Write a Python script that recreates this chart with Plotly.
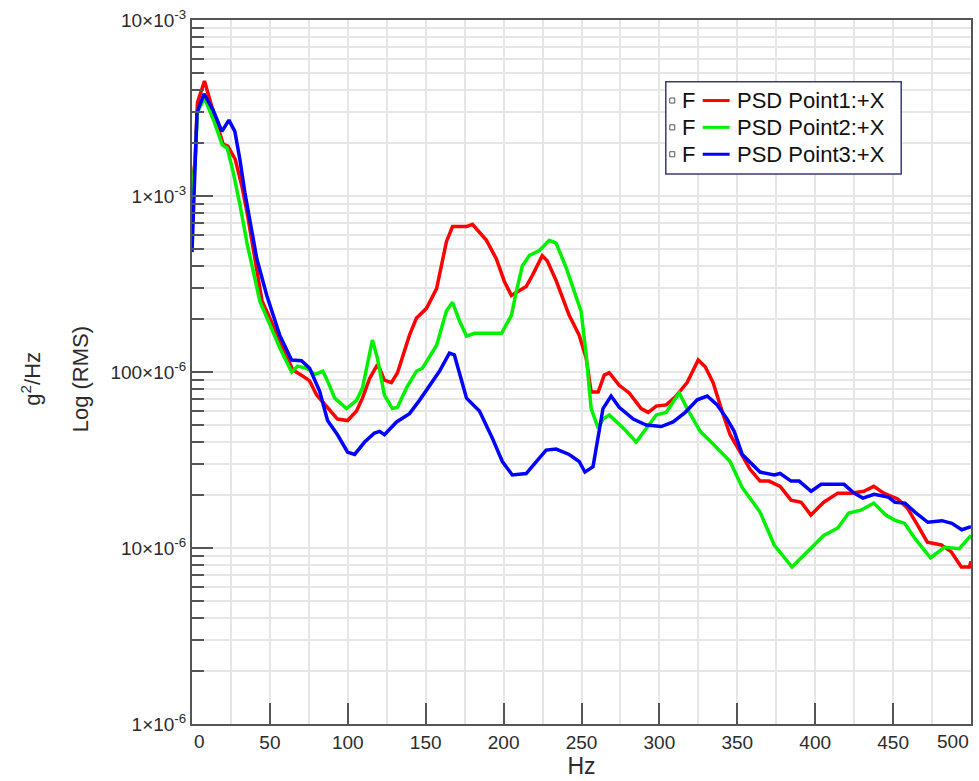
import plotly.graph_objects as go

# Frequency (Hz) and PSD (g^2/Hz) for each measurement point
red_hz = [0, 2, 3.5, 8, 13.7, 20, 23, 27.7, 32, 35.3, 39, 45, 50, 56.4, 64.6, 71, 75.5, 80, 86.3,
          93.4, 99.9, 105.6, 109.4, 114, 118.5, 120.4, 123.5, 128, 131.9, 139.6, 144, 150.5, 157,
          163.3, 167.2, 176.2, 180, 189, 195.3, 200.5, 205, 214.5, 218.4, 224.8, 228, 233.7, 242.1,
          248.5, 253, 256.2, 260.7, 264.6, 267.8, 274.2, 280.6, 288.3, 292.8, 298, 304.4, 310.1,
          317.8, 324.9, 329.4, 334.5, 341, 345.4, 351.9, 358.2, 364.6, 370.4, 377.5, 384.5, 391,
          397.2, 405.5, 414.5, 422.8, 431.2, 437.6, 444, 453, 459.3, 465.7, 472, 481, 487.4, 493.8,
          499, 500]
red_psd = [1.1e-3, 1.6e-3, 3.4e-3, 4.5e-3, 3.0e-3, 1.97e-3, 1.92e-3, 1.62e-3, 1.14e-3, 8.1e-4,
           5.2e-4, 2.52e-4, 2.02e-4, 1.5e-4, 1.03e-4, 9.5e-5, 8.9e-5, 7.4e-5, 6.4e-5, 5.4e-5, 5.3e-5,
           6.0e-5, 7.1e-5, 9.2e-5, 1.08e-4, 1.05e-4, 9.0e-5, 8.7e-5, 9.9e-5, 1.62e-4, 2.02e-4, 2.3e-4,
           2.98e-4, 5.5e-4, 6.7e-4, 6.7e-4, 6.9e-4, 5.6e-4, 4.4e-4, 3.27e-4, 2.72e-4, 3.06e-4, 3.53e-4,
           4.58e-4, 4.29e-4, 3.31e-4, 2.1e-4, 1.62e-4, 1.2e-4, 7.7e-5, 7.7e-5, 9.6e-5, 9.9e-5, 8.4e-5,
           7.6e-5, 6.2e-5, 5.9e-5, 6.4e-5, 6.5e-5, 7.2e-5, 8.7e-5, 1.17e-4, 1.07e-4, 8.7e-5, 5.7e-5,
           4.4e-5, 3.5e-5, 2.8e-5, 2.4e-5, 2.4e-5, 2.24e-5, 1.87e-5, 1.82e-5, 1.54e-5, 1.82e-5,
           2.05e-5, 2.05e-5, 2.1e-5, 2.24e-5, 2.05e-5, 1.9e-5, 1.68e-5, 1.35e-5, 1.08e-5, 1.04e-5,
           9.5e-6, 7.8e-6, 7.8e-6, 8.4e-6]

green_hz = [0, 2, 3.5, 8, 13.7, 19.4, 22.6, 26.4, 30.9, 35.3, 43.6, 50, 56.4, 64, 67.8, 73.6, 78.8,
            84, 87, 91.6, 99.2, 105.6, 109.4, 115.8, 119, 123.5, 128.6, 131.9, 137.6, 144, 147.9,
            157, 163.3, 167.2, 171.7, 176.2, 181.3, 198.7, 205, 208.2, 212, 216.6, 223, 229.3, 233.7,
            240.2, 246.6, 249.8, 253, 256.2, 260.7, 263.8, 267.8, 276.8, 285.1, 291.5, 298, 304.4,
            308.8, 312.7, 317.8, 326.2, 334.5, 345.4, 353.2, 364.6, 373.7, 385.1, 394.8, 405.5,
            414.5, 421.5, 429.3, 437.6, 445.3, 451, 457.4, 463.8, 474, 483, 492.5, 500]
green_psd = [1.0e-3, 1.6e-3, 3.0e-3, 3.6e-3, 2.72e-3, 1.95e-3, 1.87e-3, 1.37e-3, 8.8e-4, 5.4e-4,
             2.52e-4, 1.84e-4, 1.37e-4, 1.0e-4, 1.08e-4, 1.05e-4, 9.7e-5, 1.01e-4, 8.9e-5, 7.1e-5,
             6.2e-5, 6.9e-5, 8.1e-5, 1.52e-4, 1.2e-4, 7.4e-5, 6.2e-5, 6.3e-5, 8.1e-5, 1.01e-4,
             1.05e-4, 1.42e-4, 2.22e-4, 2.49e-4, 1.95e-4, 1.6e-4, 1.66e-4, 1.66e-4, 2.1e-4, 2.87e-4,
             4.0e-4, 4.6e-4, 4.9e-4, 5.6e-4, 5.4e-4, 3.9e-4, 2.7e-4, 2.2e-4, 1.25e-4, 6.2e-5, 4.8e-5,
             5.4e-5, 5.7e-5, 4.8e-5, 4.0e-5, 4.8e-5, 5.7e-5, 5.9e-5, 6.8e-5, 7.6e-5, 6.2e-5, 4.6e-5,
             3.9e-5, 3.1e-5, 2.2e-5, 1.6e-5, 1.04e-5, 7.8e-6, 9.5e-6, 1.18e-5, 1.3e-5, 1.58e-5,
             1.64e-5, 1.8e-5, 1.54e-5, 1.44e-5, 1.38e-5, 1.14e-5, 8.8e-6, 1.01e-5, 9.9e-6, 1.18e-5]

blue_hz = [0, 1.9, 3.2, 7.7, 13.4, 19.2, 23.7, 27.5, 30.7, 33.9, 38.4, 41.6, 48, 56.3, 63.9, 70.3,
           75.5, 81.9, 87, 93.4, 99.9, 104.4, 110.8, 117.1, 120.4, 123.5, 131.3, 139.6, 146, 152.4,
           158.8, 165.2, 168.4, 176.2, 184.5, 192.8, 199.2, 205.6, 214.5, 221, 227.3, 233.7, 242.1,
           248.5, 252.2, 257.4, 261.2, 263.8, 269, 274.2, 283.2, 291.5, 301.2, 308.8, 316.6, 324.3,
           330.7, 337.1, 343.5, 348, 353.2, 360.8, 364.6, 373.7, 377.5, 384.5, 389.7, 397.4, 403.8,
           410.2, 418.5, 424.9, 430.6, 437.8, 446.7, 451.2, 457.6, 464, 472.3, 481.3, 487.7, 494.1,
           500]
blue_psd = [4.8e-4, 1.42e-3, 2.98e-3, 3.8e-3, 3.1e-3, 2.33e-3, 2.7e-3, 2.33e-3, 1.62e-3, 1.05e-3,
            6.3e-4, 4.4e-4, 2.72e-4, 1.62e-4, 1.17e-4, 1.16e-4, 1.05e-4, 7.8e-5, 5.3e-5, 4.4e-5,
            3.5e-5, 3.4e-5, 4.0e-5, 4.5e-5, 4.6e-5, 4.4e-5, 5.2e-5, 5.8e-5, 6.9e-5, 8.4e-5, 1.01e-4,
            1.28e-4, 1.25e-4, 7.1e-5, 6.0e-5, 4.2e-5, 3.1e-5, 2.6e-5, 2.65e-5, 3.1e-5, 3.6e-5,
            3.65e-5, 3.4e-5, 3.1e-5, 2.7e-5, 2.9e-5, 4.7e-5, 6.2e-5, 7.3e-5, 6.3e-5, 5.4e-5, 5.0e-5,
            4.9e-5, 5.2e-5, 5.9e-5, 6.95e-5, 7.3e-5, 6.5e-5, 5.4e-5, 4.6e-5, 3.4e-5, 2.9e-5, 2.7e-5,
            2.6e-5, 2.65e-5, 2.4e-5, 2.4e-5, 2.1e-5, 2.3e-5, 2.3e-5, 2.3e-5, 2.05e-5, 1.92e-5,
            2.02e-5, 1.95e-5, 1.82e-5, 1.8e-5, 1.6e-5, 1.4e-5, 1.43e-5, 1.38e-5, 1.27e-5, 1.32e-5]

series_names = ["PSD Point1:+X", "PSD Point2:+X", "PSD Point3:+X"]
series_colors = ["#ff0000", "#00f000", "#0000ff"]

x_ticks = [50, 100, 150, 200, 250, 300, 350, 400, 450]
x_end_labels = [0, 500]
y_ticks = [1e-6, 1e-5, 1e-4, 1e-3, 1e-2]
y_ticktext = ["1×10<sup>-6</sup>", "10×10<sup>-6</sup>", "100×10<sup>-6</sup>",
              "1×10<sup>-3</sup>", "10×10<sup>-3</sup>"]
y_minor = [k * 10.0 ** e for e in range(-6, -2) for k in range(2, 10)]

FONT = "Liberation Sans, Arial, sans-serif"
TXT = "#2b2b2b"
GRID = "#e6e6e6"
AX = "#555555"

fig = go.Figure()
for xs, ys, name, col in zip([red_hz, green_hz, blue_hz], [red_psd, green_psd, blue_psd],
                             series_names, series_colors):
    fig.add_trace(go.Scatter(x=xs, y=ys, mode="lines", name=name,
                             line=dict(color=col, width=3.5)))

fig.update_layout(
    width=979, height=781,
    margin=dict(l=192, r=6, t=20, b=53),
    plot_bgcolor="white", paper_bgcolor="white",
    showlegend=False,
    font=dict(family=FONT, color=TXT, size=19),
)

fig.update_xaxes(
    range=[0, 500], tickmode="array", tickvals=x_ticks,
    ticks="inside", ticklen=21, tickwidth=1.5, tickcolor=AX,
    showline=True, linecolor=AX, linewidth=2, mirror=True,
    showgrid=True, gridcolor=GRID, gridwidth=1.5, zeroline=False,
    minor=dict(dtick=25, showgrid=True, gridcolor=GRID, gridwidth=1.5, ticks=""),
    tickfont=dict(family=FONT, size=19, color=TXT),
    title=dict(text="Hz", font=dict(family=FONT, size=23, color=TXT), standoff=6),
)

fig.update_yaxes(
    type="log", range=[-6, -2], tickmode="array", tickvals=y_ticks, ticktext=y_ticktext,
    ticks="inside", ticklen=21, tickwidth=1.5, tickcolor=AX,
    showline=True, linecolor=AX, linewidth=2, mirror=True,
    showgrid=True, gridcolor=GRID, gridwidth=1.5, zeroline=False,
    minor=dict(tickvals=y_minor, ticks="inside", ticklen=12, tickwidth=1.5, tickcolor=AX,
               showgrid=True, gridcolor=GRID, gridwidth=1.5),
    tickfont=dict(family=FONT, size=19, color=TXT),
)

# End labels of the frequency axis, kept inside the frame
for v, anchor in zip(x_end_labels, ["left", "right"]):
    fig.add_annotation(x=v, y=0, xref="x", yref="paper", text=str(v), showarrow=False,
                       xanchor=anchor, yanchor="top", yshift=-5,
                       font=dict(family=FONT, size=19, color=TXT))

# Two-line vertical axis title
fig.add_annotation(x=-0.207, y=0.49, xref="paper", yref="paper", text="g<sup>2</sup>/Hz",
                   textangle=-90, showarrow=False, xanchor="center", yanchor="middle",
                   font=dict(family=FONT, size=22, color=TXT))
fig.add_annotation(x=-0.1434, y=0.49, xref="paper", yref="paper", text="Log (RMS)",
                   textangle=-90, showarrow=False, xanchor="center", yanchor="middle",
                   font=dict(family=FONT, size=22, color=TXT))

# Boxed legend with checkbox, "F" flag, line sample and series name
box_x0, box_x1, box_y0, box_y1 = 0.6082, 0.9104, 0.7811, 0.9124
fig.add_shape(type="rect", xref="paper", yref="paper", x0=box_x0, x1=box_x1, y0=box_y0, y1=box_y1,
              line=dict(color="#3a3a78", width=1.5), fillcolor="white", layer="above")
row_y = [0.8856, 0.8475, 0.8093]
for yy, name, col in zip(row_y, series_names, series_colors):
    fig.add_shape(type="rect", xref="paper", yref="paper",
                  x0=0.6133, x1=0.6197, y0=yy - 0.0036, y1=yy + 0.0036,
                  line=dict(color="#555555", width=1), fillcolor="white", layer="above")
    fig.add_annotation(x=0.6262, y=yy, xref="paper", yref="paper", text="F", showarrow=False,
                       xanchor="left", yanchor="middle", font=dict(family=FONT, size=22, color="#111"))
    fig.add_shape(type="line", xref="paper", yref="paper", x0=0.6556, x1=0.6901, y0=yy, y1=yy,
                  line=dict(color=col, width=3), layer="above")
    fig.add_annotation(x=0.6965, y=yy, xref="paper", yref="paper", text=name, showarrow=False,
                       xanchor="left", yanchor="middle", font=dict(family=FONT, size=22, color="#111"))

fig.write_html("out.html")
